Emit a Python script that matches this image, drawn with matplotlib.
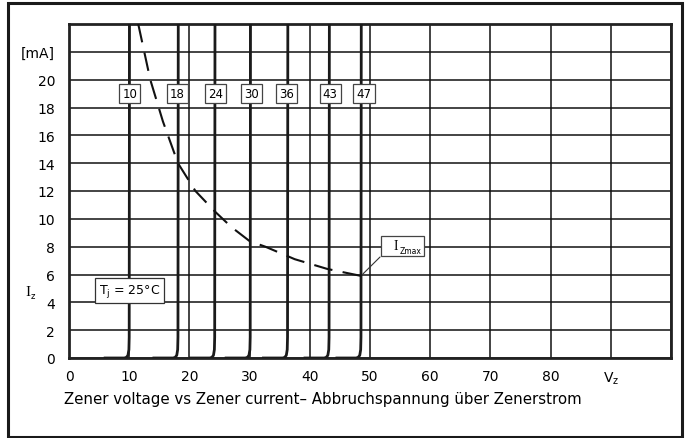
import matplotlib
matplotlib.use("Agg")
import matplotlib.pyplot as plt
from matplotlib.patches import Rectangle

# ---- data ----
zener_labels = ["10", "18", "24", "30", "36", "43", "47"]
zener_breakdown_v = [10.0, 18.1, 24.2, 30.1, 36.3, 43.2, 48.5]
label_v = [10.1, 18.0, 24.3, 30.3, 36.1, 43.4, 49.0]
knee_dv = [-4.0, -0.8, -0.45, -0.2, -0.05, 0.0, 0.05]
knee_i = [0.0, 0.0, 0.05, 0.2, 0.6, 1.5, 24.0]

izmax_v = [11.5, 13.5, 15.6, 18.1, 21.0, 24.3, 27.0, 30.0, 32.6, 37.5, 42.9, 48.5]
izmax_i = [24.0, 20.0, 17.0, 14.0, 12.0, 10.5, 9.4, 8.4, 8.0, 7.1, 6.4, 5.9]

x_ticks = [0, 10, 20, 30, 40, 50, 60, 70, 80, 90]
x_tick_labels = ["0", "10", "20", "30", "40", "50", "60", "70", "80", "V$_\\mathregular{z}$"]
y_ticks = [0, 2, 4, 6, 8, 10, 12, 14, 16, 18, 20, 22]
y_tick_labels = ["0", "2", "4", "6", "8", "10", "12", "14", "16", "18", "20", "[mA]"]

plt.rcParams['font.family'] = ['DejaVu Sans']

fig = plt.figure(figsize=(6.87, 4.39), dpi=100)
W, H = 687, 439
ax = fig.add_axes([69 / W, 1 - 359 / H, (671 - 69) / W, (359 - 25) / H])

ax.set_xlim(0, 100)
ax.set_ylim(0, 24)

# grid
for x in range(0, 101, 10):
    ax.axvline(x, color="#111111", lw=1.1, zorder=1)
for y in range(0, 25, 2):
    ax.axhline(y, color="#111111", lw=1.1, zorder=1)

for s in ax.spines.values():
    s.set_linewidth(2.0)
    s.set_color("#222222")

# zener curves
for vz in zener_breakdown_v:
    xs = [vz + d for d in knee_dv]
    ax.plot(xs, knee_i, color="#1a1a1a", lw=2.0, zorder=3, solid_joinstyle="round")

# labels
for lab, vz in zip(zener_labels, label_v):
    ax.text(vz, 19.0, lab, ha="center", va="center", fontsize=8.5, zorder=5,
            bbox=dict(boxstyle="square,pad=0.27", fc="white", ec="#444444", lw=0.9))

# Izmax dashed
ax.plot(izmax_v, izmax_i, color="#111111", lw=1.5, ls=(0, (9, 5)), zorder=4)

# Izmax label
ax.annotate("", xy=(izmax_v[-1], izmax_i[-1]), xytext=(52.0, 7.4),
            arrowprops=dict(arrowstyle="-", color="#333333", lw=0.8), zorder=4)
ax.add_patch(Rectangle((51.9, 7.35), 7.0, 1.45, fc="white", ec="#444444", lw=0.9, zorder=5))
ax.text(54.2, 8.05, "I", family="Liberation Serif", fontsize=10, ha="center", va="center", zorder=6)
ax.text(55.0, 7.75, "Zmax", fontsize=5.5, ha="left", va="center", zorder=6)

# Tj label
ax.text(10.0, 4.85, "T$_\\mathregular{j}$ = 25°C", ha="center", va="center", fontsize=9, zorder=5,
        bbox=dict(boxstyle="square,pad=0.3", fc="white", ec="#333333", lw=0.9))

ax.set_xticks(x_ticks)
ax.set_xticklabels(x_tick_labels, fontsize=10)
ax.set_yticks(y_ticks)
ax.set_yticklabels(y_tick_labels, fontsize=10)
ax.tick_params(axis="x", length=0, pad=8)
ax.tick_params(axis="y", length=0, pad=10)

fig.text(28 / W, 1 - 293 / H, "I", family="Liberation Serif", fontsize=11, ha="center", va="center")
fig.text(33 / W, 1 - 297 / H, "z", fontsize=6, ha="center", va="center")

fig.text(64 / W, 1 - 400 / H, "Zener voltage vs Zener current\u2013 Abbruchspannung über Zenerstrom",
         fontsize=10.8, ha="left", va="center")

fig.patches.append(Rectangle((8 / W, 1 - 438 / H), (682 - 8) / W, (438 - 4) / H,
                             transform=fig.transFigure, fill=False, ec="#1a1a1a", lw=2.2))

fig.savefig("out.png", dpi=100)
